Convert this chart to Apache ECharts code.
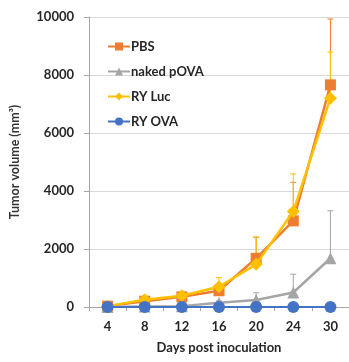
<!DOCTYPE html>
<html>
<head>
<meta charset="utf-8">
<script src="https://cdn.jsdelivr.net/npm/echarts@6/dist/echarts.min.js"></script>
<style>
  html, body { margin: 0; padding: 0; background: #fff; }
  #chart { width: 349px; height: 362px; }
</style>
</head>
<body>
<div id="chart"></div>
<script>
// Tumor growth after inoculation, mean volume (mm³) with upper SD bars
const days = ['4', '8', '12', '16', '20', '24', '30'];

const pbs        = [30, 200, 350, 560, 1680, 2970, 7660];
const pbsSd      = [20, 60, 100, 250, 730, 1330, 2270];
const nakedPova   = [0, 20, 30, 150, 240, 500, 1680];
const nakedPovaSd = [0, 10, 20, 60, 250, 630, 1640];
const ryLuc      = [30, 250, 390, 700, 1470, 3290, 7200];
const ryLucSd    = [20, 80, 120, 310, 940, 1300, 1590];
const ryOva      = [0, 0, 0, 0, 0, 0, 0];
const ryOvaSd    = [0, 0, 0, 0, 0, 0, 0];

const yTicks = [0, 2000, 4000, 6000, 8000, 10000];

const FONT = 'Lato, "Open Sans", sans-serif';
const TEXT = '#262626';

const groups = [
  { name: 'PBS',         mean: pbs,       sd: pbsSd,       color: '#ED7D31', symbol: 'rect',     size: 11 },
  { name: 'naked pOVA',  mean: nakedPova, sd: nakedPovaSd, color: '#A5A5A5', symbol: 'triangle', size: 12 },
  { name: 'RY Luc',      mean: ryLuc,     sd: ryLucSd,     color: '#FFC000', symbol: 'diamond',  size: 13 },
  { name: 'RY OVA',      mean: ryOva,     sd: ryOvaSd,     color: '#4472C4', symbol: 'circle',   size: 12 }
];

// upper-only error bar with a short cap
function errorBar(color) {
  return function (params, api) {
    const base = api.coord([api.value(0), api.value(1)]);
    const top = api.coord([api.value(0), api.value(2)]);
    const half = 3;
    return {
      type: 'group',
      children: [
        { type: 'line', shape: { x1: base[0], y1: base[1], x2: top[0], y2: top[1] },
          style: { stroke: color, lineWidth: 1 } },
        { type: 'line', shape: { x1: top[0] - half, y1: top[1], x2: top[0] + half, y2: top[1] },
          style: { stroke: color, lineWidth: 1 } }
      ]
    };
  };
}

const series = [];
groups.forEach(function (g) {
  series.push({
    name: g.name + ' SD',
    type: 'custom',
    renderItem: errorBar(g.color),
    data: g.mean.map(function (m, i) { return [i, m, m + g.sd[i]]; }),
    z: 1,
    silent: true
  });
});
groups.forEach(function (g, k) {
  series.push({
    name: g.name,
    type: 'line',
    data: g.mean,
    symbol: g.symbol,
    symbolSize: g.size,
    showAllSymbol: true,
    color: g.color,
    lineStyle: { color: g.color, width: g.name === 'RY OVA' ? 2 : 2.5 },
    itemStyle: { color: g.color },
    z: 3 + k
  });
});

const chart = echarts.init(document.getElementById('chart'), null, { renderer: 'canvas' });
chart.setOption({
  animation: false,
  backgroundColor: '#fff',
  grid: { left: 88, right: 0, top: 17, bottom: 55, containLabel: false },
  legend: {
    data: groups.map(function (g) { return g.name; }),
    orient: 'vertical',
    left: 102,
    top: 35,
    itemWidth: 22,
    itemHeight: 10,
    itemGap: 12,
    textStyle: { fontFamily: FONT, fontWeight: 'bold', fontSize: 13, color: TEXT, padding: [0, 0, 0, -4] }
  },
  xAxis: {
    type: 'category',
    data: days,
    boundaryGap: true,
    name: 'Days post inoculation',
    nameLocation: 'middle',
    nameGap: 34,
    nameTextStyle: { fontFamily: FONT, fontWeight: 'bold', fontSize: 13, color: TEXT },
    axisLine: { lineStyle: { color: '#a6a6a6' } },
    axisTick: { show: true, length: 4, lineStyle: { color: '#a6a6a6' } },
    axisLabel: { margin: 13, fontFamily: FONT, fontWeight: 'bold', fontSize: 13, color: TEXT },
    splitLine: { show: false }
  },
  yAxis: {
    type: 'value',
    min: yTicks[0],
    max: yTicks[yTicks.length - 1],
    interval: yTicks[1] - yTicks[0],
    name: 'Tumor volume (mm³)',
    nameLocation: 'middle',
    nameGap: 54,
    nameTextStyle: { fontFamily: FONT, fontWeight: 'bold', fontSize: 12.5, color: '#333', padding: [0, 0, 14, 0] },
    axisLine: { show: true, lineStyle: { color: '#a6a6a6' } },
    axisTick: { show: true, length: 5, lineStyle: { color: '#a6a6a6' } },
    axisLabel: {
      margin: 15, fontFamily: FONT, fontWeight: 'bold', fontSize: 13, color: TEXT,
      formatter: function (v) { return String(v); }
    },
    splitLine: { lineStyle: { color: '#d9d9d9' } }
  },
  series: series
});
</script>
</body>
</html>
